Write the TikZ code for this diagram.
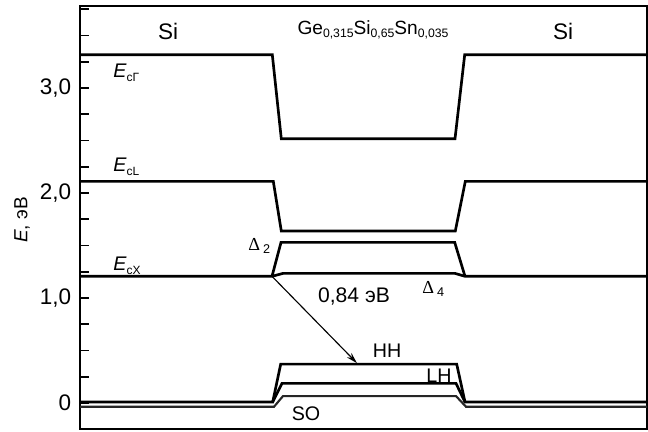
\documentclass[tikz,border=0pt]{standalone}
\usepackage{fontspec}
\setmainfont{Liberation Sans}
\newfontfamily\greekserif{Liberation Serif}
\usetikzlibrary{positioning, arrows.meta}

\newcommand{\lowtxt}[2][8.5]{\raisebox{-0.35ex}{\fontsize{#1}{#1}\selectfont #2}}

\begin{document}
\begin{tikzpicture}[x=0.025cm, y=2.625cm,
        band/.style={line width=1.9pt, line join=miter},
        axis/.style={line width=1.2pt},
        lbl/.style={inner sep=0pt, font=\fontsize{16}{18}\selectfont},
        elbl/.style={inner sep=0pt, anchor=west, font=\fontsize{14}{16}\selectfont}]
        \useasboundingbox (0,-0.2667) rectangle (648,3.838);

        % frame and ticks
        \draw[axis] (80,-0.2476) rectangle (647,3.781);
        \foreach \e in {0,0.25,...,3.75}
            \draw[axis] (80,\e) -- (89,\e);
        \foreach \e/\t in {0/0, 1/{1,0}, 2/{2,0}, 3/{3,0}}
            \node[lbl, anchor=east] (tick\e) at (71.5,\e) {\t};
        \node[lbl, rotate=90, font=\fontsize{13.5}{15}\selectfont] (ylab) at (22,1.743) {\textit{E}, эВ};

        % layers
        \node[lbl] (siL) at (168,3.54) {Si};
        \node[lbl] (siR) at (563,3.54) {Si};
        \node[lbl, font=\fontsize{13.6}{15}\selectfont] (alloy) at (373,3.552)
            {Ge\lowtxt[8.7]{0,315}Si\lowtxt[8.7]{0,65}Sn\lowtxt[8.7]{0,035}};

        % conduction band
        \draw[band] (80,3.317) -- (272.3,3.317) -- (281.3,2.517) -- (455,2.517) -- (464.7,3.317) -- (647,3.317);
        \draw[band] (80,2.111) -- (273.3,2.111) -- (281.3,1.638) -- (455.3,1.638) -- (465.3,2.111) -- (647,2.111);
        \draw[band] (80,1.207) -- (272,1.207) -- (283,1.235) -- (455,1.235) -- (465,1.207) -- (647,1.207);
        \draw[band] (272,1.207) -- (281,1.530) -- (454.7,1.530) -- (465,1.207);

        % valence band
        \draw[band, black!85, line width=1.5pt] (80,-0.035) -- (274,-0.035) -- (283,0.067) -- (456,0.067) -- (466,-0.035) -- (647,-0.035);
        \draw[band] (272.7,0.01) -- (282,0.188) -- (456,0.188) -- (465,0.01);
        \draw[band] (80,0.01) -- (272.7,0.01) -- (280.7,0.371) -- (456.7,0.371) -- (465,0.01) -- (647,0.01);

        \node[elbl] (ecG) at (113,3.143) {\textit{E}\lowtxt{cΓ}};
        \node[elbl] (ecL) at (113,2.248) {\textit{E}\lowtxt{cL}};
        \node[elbl] (ecX) at (113,1.305) {\textit{E}\lowtxt{cX}};
        \node[elbl, font=\fontsize{13}{15}\selectfont] (d2) at (248,1.495) {{\greekserif Δ}\,\lowtxt[9]{2}};
        \node[elbl, font=\fontsize{13}{15}\selectfont] (d4) at (422,1.086) {{\greekserif Δ}\,\lowtxt[9]{4}};

        \node[lbl, font=\fontsize{15}{17}\selectfont] (gap) at (354,1.019) {0,84 эВ};
        \node[lbl, font=\fontsize{14}{16}\selectfont] (hh) at (387,0.495) {HH};
        \node[lbl, font=\fontsize{14}{16}\selectfont] (lh) at (439,0.257) {LH};
        \node[lbl, font=\fontsize{14}{16}\selectfont] (so) at (306,-0.105) {SO};

        % indirect transition
        \coordinate (xmin) at (272,1.207);
        \coordinate (hhtop) at (357,0.38);
        \path [-{Stealth[length=8pt, width=4.5pt]}, line width=0.8pt] (xmin) edge (hhtop);

    \end{tikzpicture}
\end{document}
